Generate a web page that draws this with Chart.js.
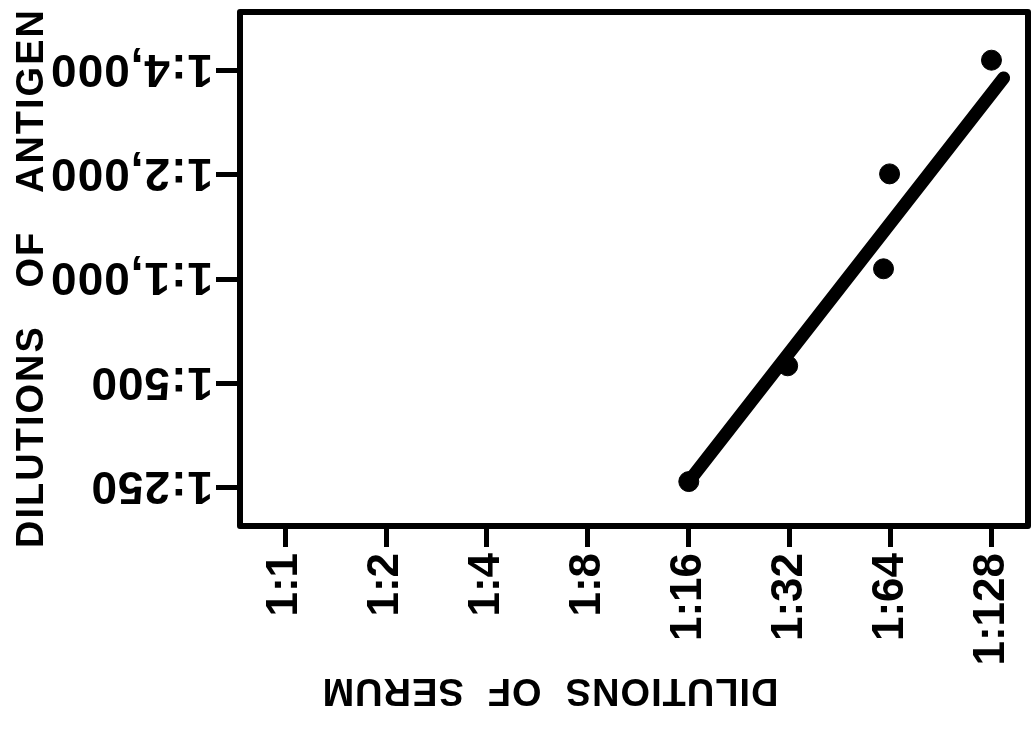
<!DOCTYPE html>
<html>
<head>
<meta charset="utf-8">
<script src="https://cdn.jsdelivr.net/npm/chart.js@4/dist/chart.umd.min.js"></script>
<style>
  html, body { margin: 0; padding: 0; background: #fff; }
  #wrap { width: 1032px; height: 731px; }
</style>
</head>
<body>
<div id="wrap"><canvas id="chart" width="1032" height="731"></canvas></div>
<script>
// serum dilutions (x), steps of 2-fold
const serumSteps = [0, 1, 2, 3, 4, 5, 6, 7];
const serumLabels = ['1:1', '1:2', '1:4', '1:8', '1:16', '1:32', '1:64', '1:128'];
// antigen dilutions (y)
const antigenSteps = [0, 1, 2, 3, 4];
const antigenLabels = ['1:250', '1:500', '1:1,000', '1:2,000', '1:4,000'];

// measured points (in dilution steps)
const pointSerum = [4.0, 4.98, 5.93, 5.99, 7.0];
const pointAntigen = [0.06, 1.17, 2.10, 3.01, 4.10];

// fitted line end points
const lineSerum = [4.0, 7.12];
const lineAntigen = [0.06, 3.93];

const xTitle = 'DILUTIONS  OF  SERUM';
const yTitle = 'DILUTIONS   OF   ANTIGEN';

const ink = '#000';
const bold = 'bold 46px "Liberation Sans", Arial, sans-serif';

// frame, upside-down y labels and titles
const paperPlugin = {
  id: 'paper',
  afterDraw(chart) {
    const {ctx, chartArea: a} = chart;
    const y = chart.scales.y;
    ctx.save();
    ctx.strokeStyle = ink;
    ctx.lineWidth = 6;
    ctx.lineJoin = 'round';
    ctx.strokeRect(a.left, a.top, a.right - a.left, a.bottom - a.top);

    ctx.fillStyle = ink;
    ctx.font = bold;
    ctx.letterSpacing = '1px';
    ctx.textAlign = 'left';
    ctx.textBaseline = 'alphabetic';
    antigenSteps.forEach((v, i) => {
      const py = y.getPixelForValue(v);
      ctx.save();
      ctx.translate(a.left - 27, py - 16);
      ctx.rotate(Math.PI);
      ctx.fillText(antigenLabels[i], 0, 0);
      ctx.restore();
    });

    ctx.font = 'bold 38px "Liberation Sans", Arial, sans-serif';
    ctx.letterSpacing = '2px';
    ctx.textAlign = 'center';
    ctx.save();
    ctx.translate(43, 278);
    ctx.rotate(-Math.PI / 2);
    ctx.fillText(yTitle, 0, 0);
    ctx.restore();

    ctx.letterSpacing = '1px';
    ctx.save();
    ctx.translate(550, 679);
    ctx.rotate(Math.PI);
    ctx.fillText(xTitle, 0, 0);
    ctx.restore();
    ctx.restore();
  }
};

new Chart(document.getElementById('chart'), {
  type: 'scatter',
  data: {
    datasets: [
      {
        type: 'line',
        data: lineSerum.map((x, i) => ({x: x, y: lineAntigen[i]})),
        borderColor: ink,
        borderWidth: 13,
        borderCapStyle: 'round',
        pointRadius: 0,
        fill: false
      },
      {
        data: pointSerum.map((x, i) => ({x: x, y: pointAntigen[i]})),
        backgroundColor: ink,
        borderColor: ink,
        pointRadius: 10
      }
    ]
  },
  options: {
    responsive: false,
    animation: false,
    devicePixelRatio: 1,
    layout: {autoPadding: false, padding: {top: 12, right: 4, left: 0, bottom: 0}},
    plugins: {legend: {display: false}, tooltip: {enabled: false}},
    scales: {
      x: {
        type: 'linear',
        min: -0.448,
        max: 7.362,
        afterBuildTicks: (s) => { s.ticks = serumSteps.map(v => ({value: v})); },
        afterFit: (s) => { s.height = 205; s.paddingLeft = 0; s.paddingRight = 0; },
        border: {display: false},
        grid: {drawOnChartArea: false, drawTicks: true, tickLength: 21, color: ink, lineWidth: 5},
        ticks: {
          minRotation: 90,
          maxRotation: 90,
          padding: 6,
          color: ink,
          font: {family: '"Liberation Sans", Arial, sans-serif', size: 44, weight: 'bold'},
          callback: (v) => serumLabels[serumSteps.indexOf(v)]
        }
      },
      y: {
        type: 'linear',
        min: -0.366,
        max: 4.562,
        afterBuildTicks: (s) => { s.ticks = antigenSteps.map(v => ({value: v})); },
        afterFit: (s) => { s.width = 240; s.paddingTop = 0; s.paddingBottom = 0; },
        border: {display: false},
        grid: {drawOnChartArea: false, drawTicks: true, tickLength: 24, color: ink, lineWidth: 5},
        ticks: {display: false}
      }
    }
  },
  plugins: [paperPlugin]
});
</script>
</body>
</html>
